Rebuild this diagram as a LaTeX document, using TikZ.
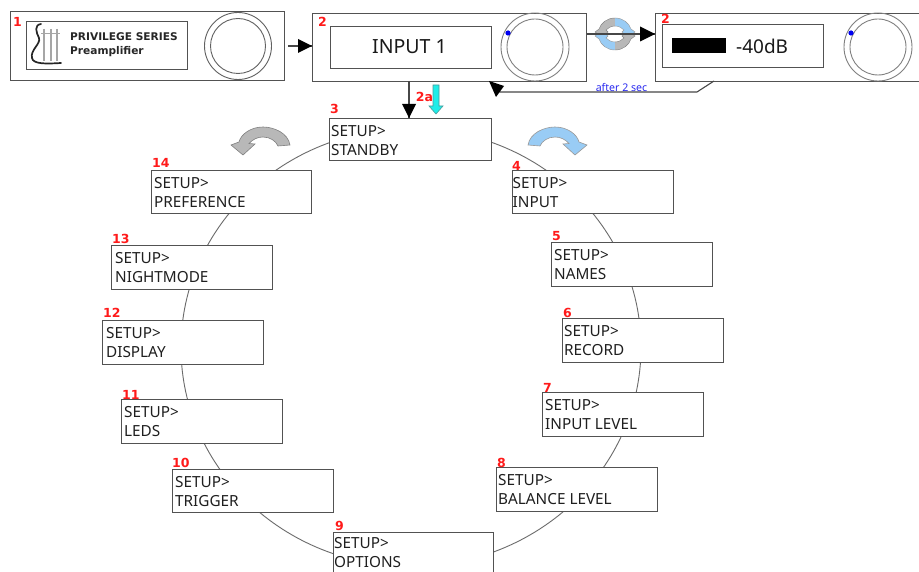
\documentclass[tikz,border=0pt]{standalone}
\usepackage{fontspec}
\setmainfont{Noto Sans}
\newfontfamily\numfont{DejaVu Sans}
\definecolor{numred}{HTML}{FF1A1A}
\definecolor{curlblue}{HTML}{99CCF5}
\definecolor{curlgrey}{HTML}{B8B8B8}
\definecolor{cyanfill}{HTML}{1FEDE8}
\definecolor{cyanline}{HTML}{4A9A9A}
\definecolor{linkblue}{HTML}{2A2AF0}
\definecolor{dotblue}{HTML}{0000F0}
\tikzset{
  x=1pt,y=-1pt,
  outl/.style={draw=black!68,line width=1.1pt},
  menubox/.style={outl,fill=white,inner sep=0pt,anchor=north west},
  menutext/.style={anchor=north west,inner sep=0pt,align=left,font=\fontsize{15.3}{19.2}\selectfont,text=black!88},
  rednum/.style={text=numred,font=\numfont\bfseries\fontsize{12.5}{13}\selectfont,inner sep=0pt,anchor=base west},
  link/.style={draw=black!72,line width=1.1pt},
  tiphead/.style={fill=black,draw=none},
  ring/.style={draw=black!58,line width=.9pt},
  knobring/.style={draw=black!62,line width=.9pt},
  curlblue/.style={fill=curlblue,draw=black!40,line width=.4pt},
  curlgrey/.style={fill=curlgrey,draw=black!50,line width=.4pt},
}
\newcommand{\setupbox}[9]{%
  \node[menubox,minimum width=#4pt-#2pt,minimum height=#5pt-#3pt] (m#1) at (#2,#3) {};
  \node[rednum] (n#1) at (#6,#7) {#1};
  \node[menutext] (t#1) at (#8,#3+7.2) {SETUP>\\#9};
}
\begin{document}
\begin{tikzpicture}
\useasboundingbox (0,0) rectangle (919,572);
\fill[white] (0,0) rectangle (919,572);
% big ring
\draw[ring] (411,347.5) ellipse [x radius=230,y radius=219];
% top row panels
\node[menubox,minimum width=274pt,minimum height=69pt] (p1) at (10,11) {};
\node[menubox,minimum width=161pt,minimum height=48pt] (p1i) at (26,21) {};
\draw[knobring] (238,46) circle (33.5);
\draw[knobring] (238,46) circle (27.5);
\node[rednum] (n1) at (13,27) {1};
\node[anchor=north west,inner sep=0pt,align=left,font=\numfont\bfseries\fontsize{10.6}{14}\selectfont,text=black!85] (brand) at (70,32.5) {PRIVILEGE SERIES\\Preamplifier};
% lyre logo
\draw[black!85,line width=1.7pt,line cap=round] (41,24) .. controls (34,25) and (36,32) .. (39,38) .. controls (41,44) and (30,50) .. (32,58) .. controls (33,64) and (45,64) .. (61,63);
\foreach \lx in {44,51,57}{\draw[black!35,line width=1.4pt] (\lx,29) -- (\lx,61);}
\draw[black!35,line width=.7pt] (41,33) -- (60,33);
%
\node[menubox,minimum width=274pt,minimum height=68pt] (p2) at (312,13) {};
\node[menubox,minimum width=161pt,minimum height=42pt] (p2i) at (330,26) {};
\node[font=\fontsize{19.5}{22}\selectfont,text=black!90,inner sep=0pt] (p2t) at (409.5,47) {INPUT 1};
\draw[knobring,draw=black!50] (535,47) circle (34);
\draw[knobring,draw=black!50] (535,47) circle (28);
\fill[dotblue] (508,33) circle (2.6);
\node[rednum] (n2) at (318,27) {2};
%
\draw[outl,fill=white,line width=1pt] (920,13.3) -- (655.3,13.3) -- (655.3,81.3) -- (920,81.3);
\coordinate (p3w) at (655,34);
\node[menubox,minimum width=161pt,minimum height=43pt] (p3i) at (662,24) {};
\fill[black] (672,38) rectangle (726,53);
\node[anchor=west,font=\fontsize{19}{22}\selectfont,text=black!90,inner sep=0pt] (p3t) at (736,46) {-40dB};
\draw[knobring,draw=black!50] (878,47) circle (34);
\draw[knobring,draw=black!50] (878,47) circle (28);
\fill[dotblue] (851,33) circle (2.6);
\node[rednum] (n2b) at (661,24) {2};
% menu boxes
\setupbox{3}{329}{118}{491}{160}{330}{114}{331}{STANDBY}
\setupbox{4}{512}{170}{673}{213}{512}{171}{512.5}{INPUT}
\setupbox{14}{151}{170}{311}{213}{152}{168}{154}{PREFERENCE}
\setupbox{5}{551}{242}{712}{286}{552}{241}{554}{NAMES}
\setupbox{13}{111}{245}{272}{289}{112}{244}{115}{NIGHTMODE}
\setupbox{6}{562}{318}{723}{362}{563}{318}{564}{RECORD}
\setupbox{12}{102}{320}{263}{364}{103}{318}{106}{DISPLAY}
\setupbox{7}{542}{392}{703}{436}{543}{392}{545}{INPUT LEVEL}
\setupbox{11}{121}{399}{282}{443}{122}{399}{124}{LEDS}
\setupbox{8}{496}{467}{657}{511}{497}{467}{498}{BALANCE LEVEL}
\setupbox{10}{172}{469}{333}{512}{172}{467}{175}{TRIGGER}
\node[menubox,minimum width=160pt,minimum height=60pt] (m9) at (333,532) {};
\node[rednum] (n9) at (335,530) {9};
\node[menutext] (t9) at (334,537.5) {SETUP>\\OPTIONS};
% connectors
\coordinate (a2) at (p2.west |- 0,46);
\draw[link] (288,46) -- (a2);
\fill[tiphead] (a2) -- ++(-14,-7) -- ++(0,14) -- cycle;
%
\coordinate (s3) at (409,81);
\coordinate (e3) at (409,118);
\draw[link] (s3) -- (e3);
\fill[tiphead] (e3) -- ++(-7,-14) -- ++(14,0) -- cycle;
% return path
\draw[link] (714,81) -- (697,92) -- (500,92) -- (491,83);
\fill[tiphead] (489,81) -- (504,86) -- (496,97) -- cycle;
\node[font=\fontsize{10.6}{12}\selectfont,text=linkblue,inner sep=0pt] (after) at (621.5,88) {after 2 sec};
% cyan arrow
\draw[fill=cyanfill,draw=cyanline,line width=.6pt] (433,85) -- (439,85) -- (439,106) -- (443,106) -- (436,114) -- (429,106) -- (433,106) -- cycle;
\node[text=numred,font=\numfont\bfseries\fontsize{12.5}{13}\selectfont,inner sep=0pt] (n2a) at (424.5,97) {2a};
% curved arrows
\def\curlpath{(528,145) .. controls (530,133) and (544,127) .. (555,127) .. controls (567,127) and (577,134) .. (579,142) -- (587,145) -- (575,155) -- (563,144) -- (569,143.5) .. controls (565,139) and (560,137) .. (555,137) .. controls (548,137) and (542,141) .. (540,146) -- cycle}
\draw[curlblue,line width=.6pt] \curlpath;
\begin{scope}[xshift=818pt,xscale=-1]
\draw[curlgrey,line width=.6pt] \curlpath;
\end{scope}
% swirl
\def\swirlup{(595,32) -- (599,29) .. controls (601,23) and (607,18) .. (615,18) .. controls (623,18) and (629,23) .. (631,29) -- (635,32) -- (628,37) -- (622,32) -- (624,30) .. controls (622,28) and (619,26) .. (615,26) .. controls (611,26) and (608,28) .. (606,30) -- (608,32) -- (602,37) -- cycle}
\begin{scope}
\clip (590,10) rectangle (615,34.5);
\draw[curlgrey] \swirlup;
\end{scope}
\begin{scope}
\clip (615,10) rectangle (640,34.5);
\draw[curlblue] \swirlup;
\end{scope}
\begin{scope}[yshift=-68pt,yscale=-1]
\begin{scope}
\clip (590,10) rectangle (615,34.5);
\draw[curlblue] \swirlup;
\end{scope}
\begin{scope}
\clip (615,10) rectangle (640,34.5);
\draw[curlgrey] \swirlup;
\end{scope}
\end{scope}
\draw[link] (p2.east |- p3w) -- (p3w);
\fill[tiphead] (p3w) -- ++(-15,-7.5) -- ++(0,15) -- cycle;
\end{tikzpicture}
\end{document}
